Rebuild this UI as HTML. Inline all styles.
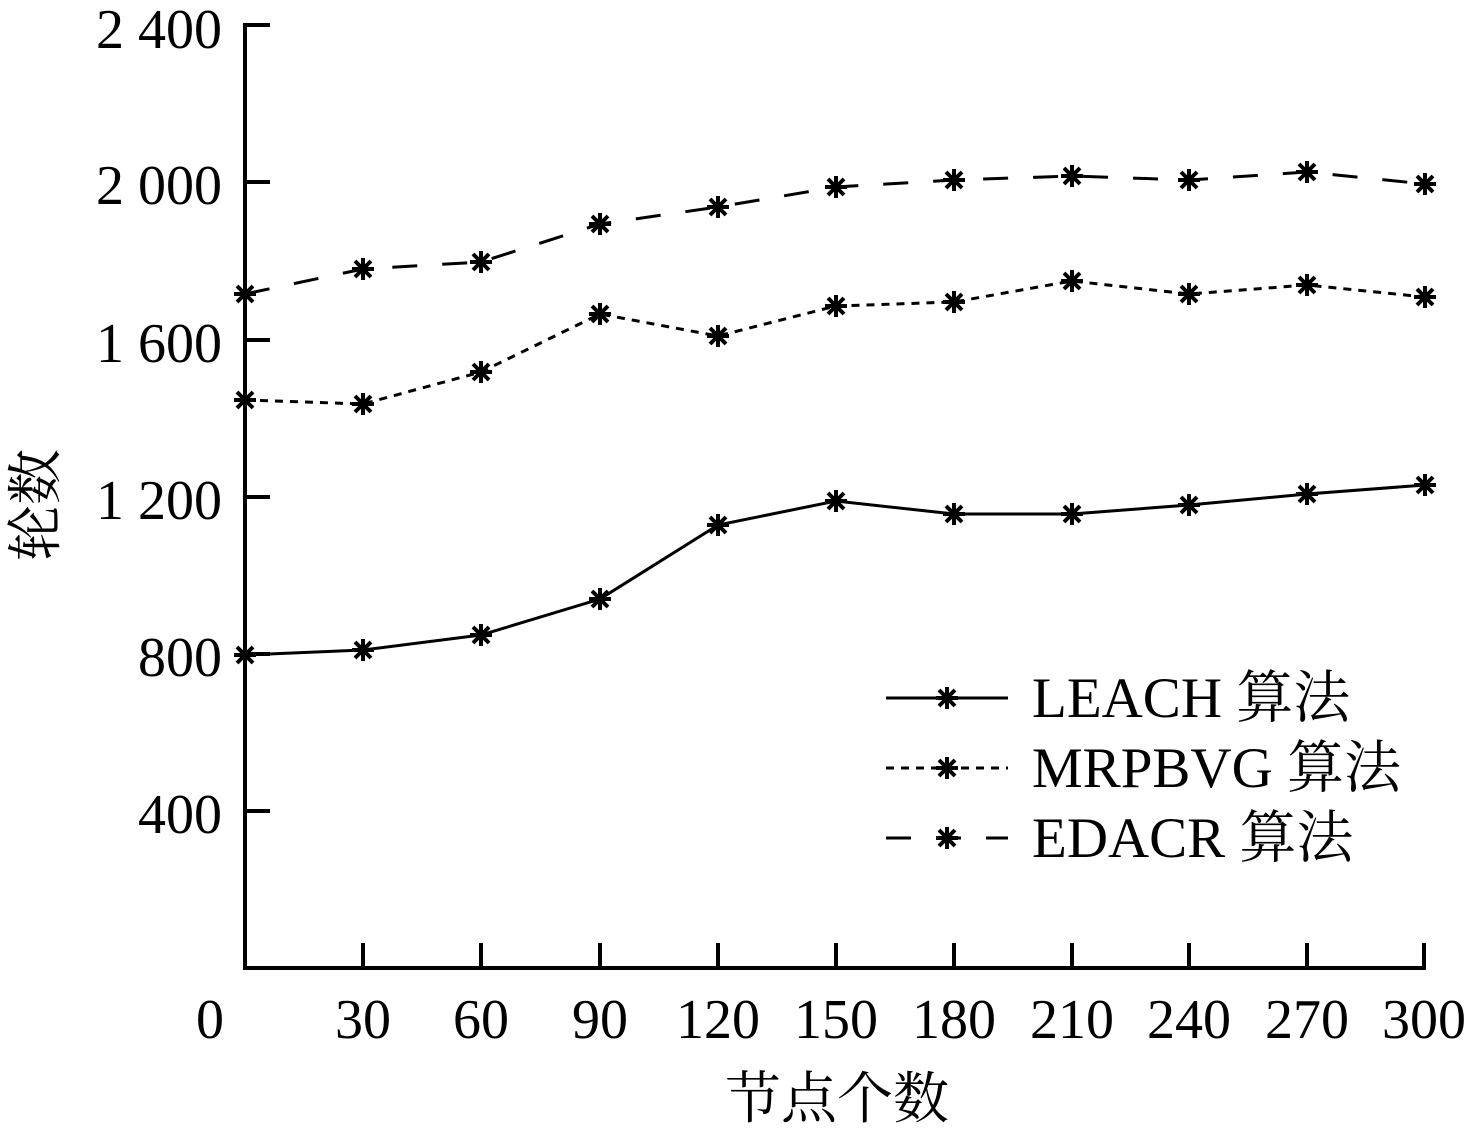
<!DOCTYPE html>
<html><head><meta charset="utf-8"><style>
body{margin:0;background:#fff}
text{font-family:"Liberation Serif","Noto Serif CJK SC",serif;fill:#000}
</style></head><body>
<svg width="1471" height="1138" xmlns="http://www.w3.org/2000/svg">
<defs>
<g id="m" stroke="#000" stroke-width="4" fill="none">
<line x1="-11" y1="0" x2="11" y2="0"/><line x1="0" y1="-11" x2="0" y2="11"/>
<line x1="-8" y1="-8" x2="8" y2="8"/><line x1="-8" y1="8" x2="8" y2="-8"/>
</g>
</defs>
<g stroke="#000" stroke-width="4" fill="none">
<polyline points="270,25 245,25 245,968 1426,968"/>
<line x1="245" y1="182" x2="270" y2="182"/>
<line x1="245" y1="340" x2="270" y2="340"/>
<line x1="245" y1="497" x2="270" y2="497"/>
<line x1="245" y1="654" x2="270" y2="654"/>
<line x1="245" y1="811" x2="270" y2="811"/>
<line x1="363" y1="968" x2="363" y2="943"/><line x1="481" y1="968" x2="481" y2="943"/>
<line x1="600" y1="968" x2="600" y2="943"/><line x1="718" y1="968" x2="718" y2="943"/>
<line x1="836" y1="968" x2="836" y2="943"/><line x1="954" y1="968" x2="954" y2="943"/>
<line x1="1072" y1="968" x2="1072" y2="943"/><line x1="1189" y1="968" x2="1189" y2="943"/>
<line x1="1307" y1="968" x2="1307" y2="943"/><line x1="1424" y1="968" x2="1424" y2="943"/>
</g>
<g font-size="56" text-anchor="end">
<text x="222" y="48">2 400</text><text x="222" y="204">2 000</text>
<text x="222" y="362">1 600</text><text x="222" y="519">1 200</text>
<text x="222" y="676">800</text><text x="222" y="833">400</text>
</g>
<g font-size="56" text-anchor="middle">
<text x="210" y="1038">0</text><text x="363" y="1038">30</text><text x="481" y="1038">60</text>
<text x="600" y="1038">90</text><text x="718" y="1038">120</text><text x="836" y="1038">150</text>
<text x="954" y="1038">180</text><text x="1072" y="1038">210</text><text x="1189" y="1038">240</text>
<text x="1307" y="1038">270</text><text x="1424" y="1038">300</text>
<text x="837" y="1118">节点个数</text>
</g>
<text font-size="56" text-anchor="middle" transform="translate(55,505) rotate(-90)">轮数</text>
<g stroke="#000" stroke-width="3" fill="none">
<polyline points="245,655 363,650 481,635 600,599 718,525 836,501 954,514 1072,514 1189,505 1307,494 1425,485"/>
<polyline stroke-dasharray="8,7" points="245,400 363,404 481,372 600,314 718,336 836,306 954,302 1072,281 1189,294 1307,285 1425,297"/>
<polyline stroke-dasharray="25,25" points="245,294 363,269 481,262 600,224 718,207 836,187 954,180 1072,176 1189,180 1307,172 1425,184"/>
<line x1="886" y1="698" x2="1008" y2="698"/>
<line x1="886" y1="768" x2="1008" y2="768" stroke-dasharray="8,7"/>
<line x1="886" y1="838" x2="1008" y2="838" stroke-dasharray="25,25"/>
</g>
<g>
<use href="#m" x="245" y="655"/><use href="#m" x="363" y="650"/><use href="#m" x="481" y="635"/><use href="#m" x="600" y="599"/><use href="#m" x="718" y="525"/><use href="#m" x="836" y="501"/><use href="#m" x="954" y="514"/><use href="#m" x="1072" y="514"/><use href="#m" x="1189" y="505"/><use href="#m" x="1307" y="494"/><use href="#m" x="1425" y="485"/>
<use href="#m" x="245" y="400"/><use href="#m" x="363" y="404"/><use href="#m" x="481" y="372"/><use href="#m" x="600" y="314"/><use href="#m" x="718" y="336"/><use href="#m" x="836" y="306"/><use href="#m" x="954" y="302"/><use href="#m" x="1072" y="281"/><use href="#m" x="1189" y="294"/><use href="#m" x="1307" y="285"/><use href="#m" x="1425" y="297"/>
<use href="#m" x="245" y="294"/><use href="#m" x="363" y="269"/><use href="#m" x="481" y="262"/><use href="#m" x="600" y="224"/><use href="#m" x="718" y="207"/><use href="#m" x="836" y="187"/><use href="#m" x="954" y="180"/><use href="#m" x="1072" y="176"/><use href="#m" x="1189" y="180"/><use href="#m" x="1307" y="172"/><use href="#m" x="1425" y="184"/>
<use href="#m" x="947" y="698"/><use href="#m" x="947" y="768"/><use href="#m" x="947" y="838"/>
</g>
<g font-size="57">
<text x="1032" y="717">LEACH 算法</text>
<text x="1032" y="787">MRPBVG 算法</text>
<text x="1032" y="857">EDACR 算法</text>
</g>
</svg>
</body></html>
